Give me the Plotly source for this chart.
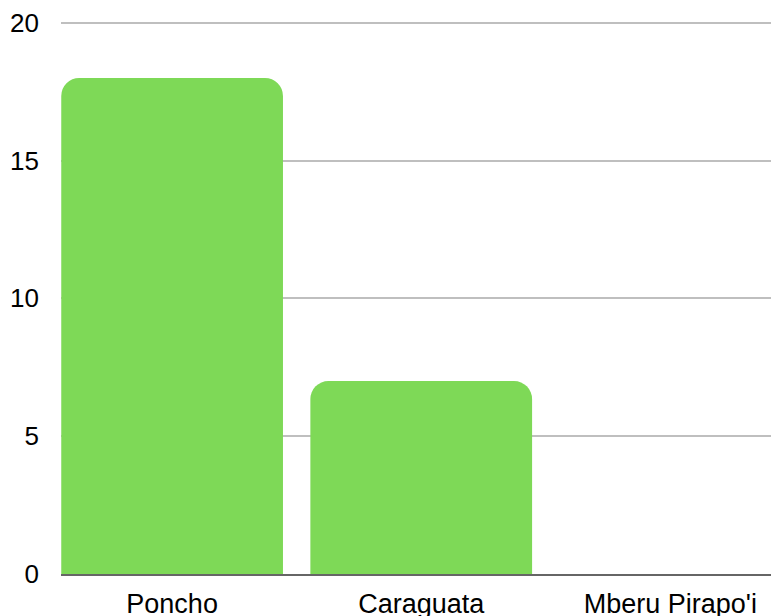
import plotly.graph_objects as go

categories = ["Poncho", "Caraguata", "Mberu Pirapo'i"]
values = [18, 7, 0]
y_ticks = [0, 5, 10, 15, 20]

fig = go.Figure(go.Bar(
    x=categories, y=values,
    marker=dict(color="#7ED957", line=dict(width=0)),
    width=0.89,
))

fig.update_layout(
    width=771, height=616,
    margin=dict(l=61, r=0, t=20, b=42),
    plot_bgcolor="white", paper_bgcolor="white",
    barcornerradius=18,
    showlegend=False,
    font=dict(family="Liberation Sans, Arial, sans-serif", size=26, color="#000"),
)
fig.update_xaxes(
    type="category", range=[-0.446, 2.404], automargin=False,
    showgrid=False, showline=True, linecolor="#666666", linewidth=2,
    ticks="", ticklabelstandoff=5, ticklabeloverflow="allow",
    tickfont=dict(size=27),
)
fig.update_yaxes(
    range=[0, 20.1], tickvals=y_ticks, automargin=False,
    showgrid=True, gridcolor="#bfbfbf", gridwidth=1.6,
    zeroline=False, showline=False, ticks="",
    ticklabelstandoff=21, ticklabeloverflow="allow",
    tickfont=dict(size=26),
)

post = (
    "var s=document.createElement('style');"
    "s.textContent='html,body{margin:0;padding:0;overflow:hidden;width:771px;height:616px;}';"
    "document.head.appendChild(s);"
)

fig.write_html(
    "out.html",
    config={"displayModeBar": False},
    post_script=post,
)
